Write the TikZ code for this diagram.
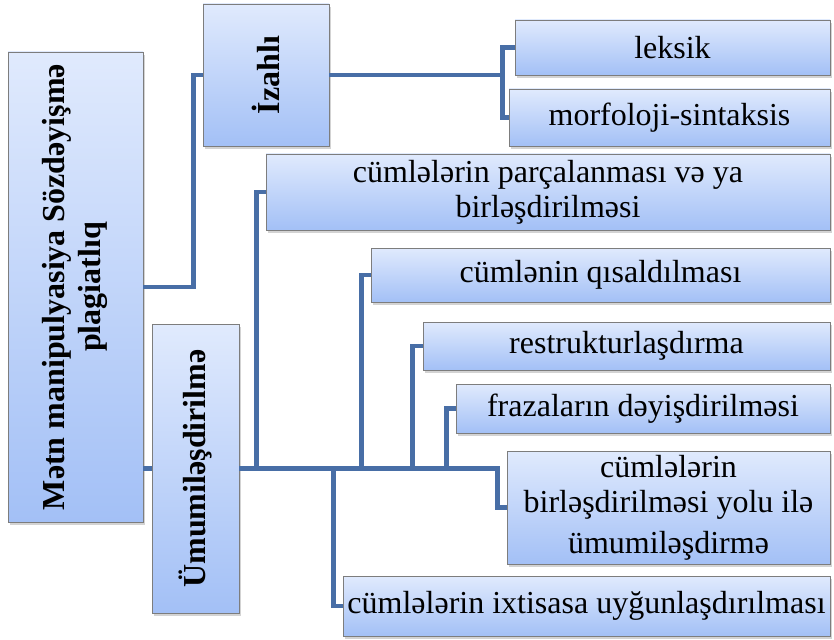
\documentclass[tikz,border=0pt]{standalone}
\usepackage{graphicx}
\usepackage{fontspec}
\setmainfont{Liberation Serif}
\usetikzlibrary{shadows}
\definecolor{boxtop}{RGB}{224,234,253}
\definecolor{boxbot}{RGB}{163,192,246}
\definecolor{boxline}{RGB}{125,125,125}
\definecolor{linkblue}{RGB}{72,110,166}

\begin{document}
\begin{tikzpicture}[
    x=1pt, y=-1pt,
    box/.style={draw=boxline, line width=0.8pt,
                top color=boxtop, bottom color=boxbot,
                drop shadow={shadow xshift=2pt, shadow yshift=-3pt, opacity=0.35},
                inner sep=1pt, align=center,
                font=\fontsize{32}{35}\selectfont},
    rotbox/.style={box, font=\fontsize{32}{36}\selectfont\bfseries},
    link/.style={draw=linkblue, line width=4.5pt}
]
  \useasboundingbox (0,0) rectangle (834,639);

  % left side
  \node[rotbox, minimum width=135pt, minimum height=470pt] (root) at (75.5,287)
       {\rotatebox{90}{\begin{tabular}{@{}c@{}}Mətn manipulyasiya Sözdəyişmə\\plagiatlıq\end{tabular}}};
  \node[rotbox, minimum width=126pt, minimum height=142pt] (izahli) at (266,75)
       {\rotatebox{90}{İzahlı}};
  \node[rotbox, minimum width=87pt, minimum height=289pt] (umumi) at (195.5,468.5)
       {\rotatebox{90}{Ümumiləşdirilmə}};

  % right side
  \node[box, minimum width=315pt, minimum height=55pt]  (leksik) at (672.5,47.5) {leksik};
  \node[box, minimum width=321pt, minimum height=57pt]  (morf)   at (669.5,117.5) {morfoloji-sintaksis};
  \node[box, minimum width=564pt, minimum height=76pt]  (parc)   at (548,192)
       {cümlələrin parçalanması və ya\\ birləşdirilməsi};
  \node[box, minimum width=459pt, minimum height=54pt]  (qisa)   at (600.5,275) {cümlənin qısaldılması};
  \node[box, minimum width=407pt, minimum height=48pt]  (restr)  at (626.5,346) {restrukturlaşdırma};
  \node[box, minimum width=374pt, minimum height=49pt]  (fraz)   at (643,408.5) {frazaların dəyişdirilməsi};
  \node[box, minimum width=323pt, minimum height=113pt] (birl)   at (668.5,507.5)
       {cümlələrin\\ birləşdirilməsi yolu ilə\\[6pt] ümumiləşdirmə};
  \node[box, minimum width=487pt, minimum height=60pt]  (ixt)    at (586.5,606)
       {cümlələrin ixtisasa uyğunlaşdırılması};

  % connectors
  \draw[link] (root.east) -- ++(50,0) |- (izahli.west);
  \draw[link] (root.east |- umumi.west) -- (umumi.west);
  \draw[link] (leksik.west) -- ++(-12,0) |- (izahli.east);
  \draw[link] (morf.west) -- ++(-6,0) |- (izahli.east);
  \draw[link] (parc.west) -- ++(-9,0) |- (umumi.east);
  \draw[link] (qisa.west) -- ++(-9,0) |- (umumi.east);
  \draw[link] (restr.west) -- ++(-10,0) |- (umumi.east);
  \draw[link] (fraz.west) -- ++(-9,0) |- (umumi.east);
  \draw[link] (birl.west) -- ++(-9,0) |- (umumi.east);
  \draw[link] (ixt.west) -- ++(-9,0) |- (umumi.east);
\end{tikzpicture}
\end{document}
